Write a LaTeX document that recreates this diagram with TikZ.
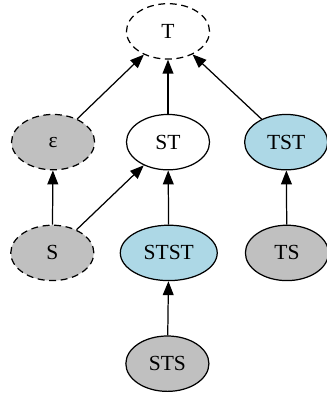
\documentclass[tikz,border=0pt]{standalone}
\usepackage{fontspec}
\setmainfont{Liberation Serif}
\usetikzlibrary{arrows.meta,shapes.geometric}

\tikzset{
  state/.style={ellipse,draw,line width=0.8pt,minimum width=54pt,minimum height=36pt,inner sep=1pt,font=\fontsize{14pt}{16pt}\selectfont},
  grayst/.style={state,fill={rgb,255:red,192;green,192;blue,192}},
  bluest/.style={state,fill={rgb,255:red,173;green,216;blue,230}},
  dashst/.style={dash pattern=on 4.5pt off 3pt},
  link/.style={line width=0.8pt,-{Triangle[length=9pt,width=7pt]}}
}

\begin{document}
\begin{tikzpicture}
        \useasboundingbox (0,0) rectangle (211.9pt,257.4pt);
        % Top
        \node[state,dashst] (T) at (109.2pt,237pt) {T};
        % Second row
        \node[grayst,dashst] (eps) at (34.5pt,165pt) {ε};
        \node[state] (ST) at (109.2pt,165pt) {ST};
        \node[bluest] (TST) at (186pt,165pt) {TST};
        % Third row
        \node[grayst,dashst] (S) at (34pt,93pt) {S};
        \node[bluest,minimum width=63pt] (STST) at (109.7pt,93pt) {STST};
        \node[grayst] (TS) at (186.5pt,93pt) {TS};
        % Bottom
        \node[grayst] (STS) at (108.8pt,21pt) {STS};
        % Edges
        \draw[link] (eps) -- (T);
        \draw[link] (ST) -- (T);
        \draw[link] (TST) -- (T);
        \draw[link] (S) -- (eps);
        \draw[link] (S) -- (ST);
        \draw[link] (STST) -- (ST);
        \draw[link] (TS) -- (TST);
        \draw[link] (STS) -- (STST);
\end{tikzpicture}
\end{document}
